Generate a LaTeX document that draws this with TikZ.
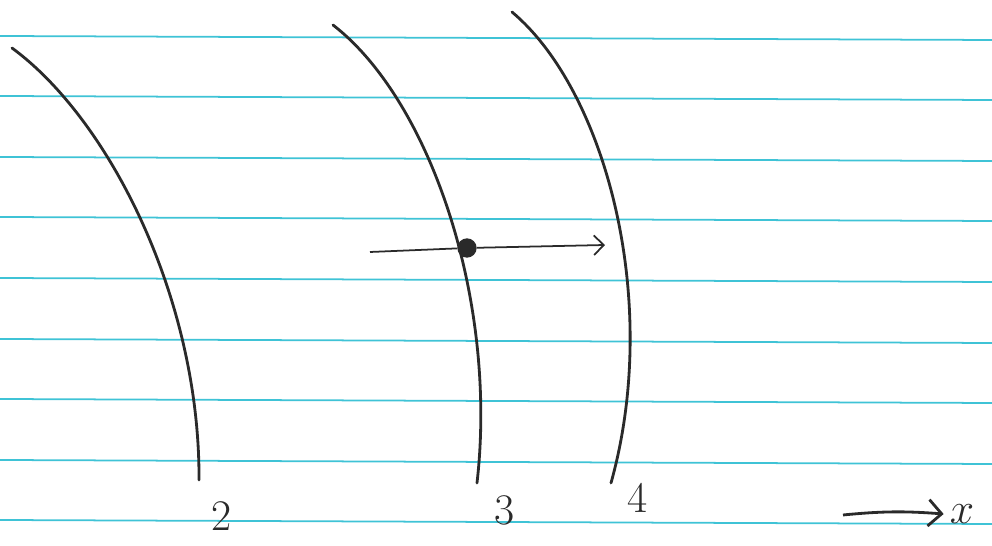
\documentclass[tikz,border=0pt]{standalone}
\usepackage{amsmath}
\usetikzlibrary{arrows.meta}
\definecolor{RuleCyan}{HTML}{3FC3D6}
\definecolor{InkGray}{HTML}{2A2A2A}

\begin{document}
\begin{tikzpicture}[x=0.02cm, y=-0.02cm, >={Straight Barb[scale=1.6]},
    front/.style={InkGray, line width=1.6pt, line cap=round},
    lbl/.style={InkGray, font=\Huge}]
  \useasboundingbox (0,0) rectangle (992,546);
  % ruled paper
  \foreach \y in {36,96,157,217,278,339,399,460,520}
    \draw[RuleCyan, line width=1pt] (0,\y) -- (992,\y+4);

  % wavefronts
  \draw[front] (12,48) .. controls (110,120) and (200,300) .. (199,480);
  \draw[front] (333,25) .. controls (430,100) and (498,300) .. (477,483);
  \draw[front] (512,12) .. controls (605,90) and (662,300) .. (611,483);

  \node[lbl] (two) at (222,516) {2};
  \node[lbl] (three) at (505,510) {3};
  \node[lbl] (four) at (638,498) {4};

  % point moving along x
  \node[circle, fill=InkGray, inner sep=0pt, minimum size=11pt] (pt) at (467,248) {};
  \coordinate (from) at (370,252);
  \coordinate (to) at (605,245);
  \draw[InkGray, line width=1pt, ->] (from) -- (pt) -- (to);

  % x axis
  \coordinate (axis) at (843,515);
  \node[lbl] (xlab) at (962,514) {$x$};
  \draw[InkGray, line width=1.6pt, ->] (axis) to[bend left=5] (xlab.west);
\end{tikzpicture}
\end{document}
